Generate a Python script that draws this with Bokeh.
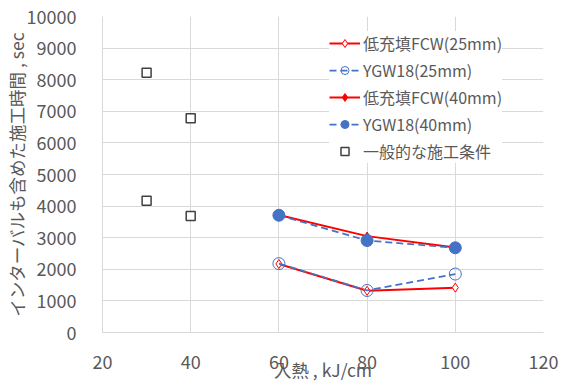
from bokeh.plotting import figure
from bokeh.models import Legend, LegendItem, FixedTicker, Range1d
from bokeh.embed import file_html
from bokeh.resources import INLINE

heat = [60, 80, 100]
fcw25 = [2170, 1320, 1420]
ygw25 = [2180, 1330, 1850]
fcw40 = [3720, 3050, 2690]
ygw40 = [3710, 2910, 2680]
gen_x = [30, 40, 30, 40]
gen_y = [8220, 6780, 4170, 3690]
x_ticks = [20, 40, 60, 80, 100, 120]
y_ticks = list(range(0, 10001, 1000))

names = ["低充填FCW(25mm)", "YGW18(25mm)", "低充填FCW(40mm)", "YGW18(40mm)", "一般的な施工条件"]

FONT = "Noto Sans CJK JP"
TXT = "#595959"
GRID = "#D9D9D9"
RED = "#FF0000"
BLUE = "#4472C4"

p = figure(width=561, height=385, output_backend="svg", toolbar_location=None,
           x_range=Range1d(20, 120), y_range=Range1d(0, 10000),
           min_border_left=101, min_border_right=18, min_border_top=16, min_border_bottom=53)
p.outline_line_color = None
p.background_fill_color = "white"

for ax in (p.xaxis[0], p.yaxis[0]):
    ax.axis_line_color = GRID
    ax.major_tick_line_color = None
    ax.minor_tick_line_color = None
    ax.major_label_text_font = FONT
    ax.major_label_text_color = TXT
    ax.major_label_text_font_size = "18px"
    ax.axis_label_text_font = FONT
    ax.axis_label_text_color = TXT
    ax.axis_label_text_font_size = "17.5px"
    ax.axis_label_text_font_style = "normal"

p.xaxis.ticker = FixedTicker(ticks=x_ticks)
p.yaxis.ticker = FixedTicker(ticks=y_ticks)
p.xaxis.major_label_standoff = 16
p.yaxis.major_label_standoff = 20
p.xaxis.axis_label = "入熱 , kJ/cm"
p.xaxis.axis_label_standoff = -15
p.yaxis.axis_label = "インターバルも含めた施工時間 , sec"
p.yaxis.axis_label_standoff = -5

p.xgrid.grid_line_color = GRID
p.ygrid.grid_line_color = GRID
p.xgrid.ticker = FixedTicker(ticks=x_ticks)
p.ygrid.ticker = FixedTicker(ticks=y_ticks)

l1 = p.line(heat, fcw25, line_color=RED, line_width=2)
m1 = p.scatter(heat, fcw25, marker="diamond", size=9, line_color=RED, fill_color="white", line_width=1)

l2 = p.line(heat, ygw25, line_color=BLUE, line_width=1.75, line_dash="7 4")
m2 = p.scatter(heat, ygw25, marker="circle", size=12, line_color=BLUE, fill_color=None, line_width=1)

l3 = p.line(heat, fcw40, line_color=RED, line_width=2)
m3 = p.scatter(heat, fcw40, marker="diamond", size=8, line_color=RED, fill_color=RED)

l4 = p.line(heat, ygw40, line_color=BLUE, line_width=1.75, line_dash="7 4")
m4 = p.scatter(heat, ygw40, marker="circle", size=12, line_color=BLUE, fill_color=BLUE)

m5 = p.scatter(gen_x, gen_y, marker="square", size=9, line_color="#404040", fill_color="white", line_width=1.5)

items = [
    LegendItem(label=names[0], renderers=[l1, m1]),
    LegendItem(label=names[1], renderers=[l2, m2]),
    LegendItem(label=names[2], renderers=[l3, m3]),
    LegendItem(label=names[3], renderers=[l4, m4]),
    LegendItem(label=names[4], renderers=[m5]),
]
legend = Legend(items=items, location=(227, 169), glyph_width=31, glyph_height=20,
                label_height=20, spacing=3, padding=6, margin=0, label_standoff=3,
                label_text_font=FONT, label_text_font_size="16px", label_text_color=TXT,
                border_line_color=None, background_fill_color="white", background_fill_alpha=1.0)
p.add_layout(legend)

open("out.html", "w").write(file_html(p, INLINE))
